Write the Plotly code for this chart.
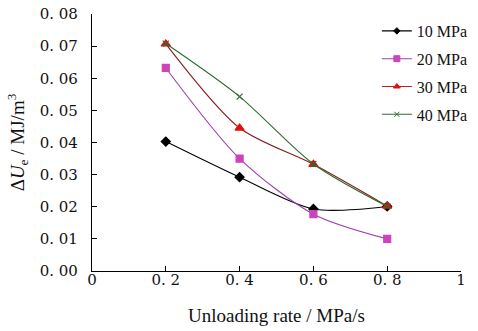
import plotly.graph_objects as go

rates = [0.2, 0.4, 0.6, 0.8]
u10 = [0.0403, 0.0292, 0.0193, 0.0201]
u20 = [0.0632, 0.0350, 0.0177, 0.0100]
u30 = [0.0707, 0.0445, 0.0332, 0.0202]
u40 = [0.0708, 0.0543, 0.0333, 0.0201]
names = ["10 MPa", "20 MPa", "30 MPa", "40 MPa"]

xtick_vals = [0, 0.2, 0.4, 0.6, 0.8, 1]
xtick_text = ["0", "0. 2", "0. 4", "0. 6", "0. 8", "1"]
ytick_vals = [0, 0.01, 0.02, 0.03, 0.04, 0.05, 0.06, 0.07, 0.08]
ytick_text = ["0. 00", "0. 01", "0. 02", "0. 03", "0. 04", "0. 05", "0. 06", "0. 07", "0. 08"]

FONT = "Liberation Serif"
TICKFONT = "DejaVu Serif"

series = [
    (u10, "#000000", "#000000", "diamond", 7, 5),
    (u20, "#A03CB4", "#CC44BB", "square", 7, 6),
    (u30, "#8B1A1A", "#E01010", "triangle-up", 8, 6),
    (u40, "#2E6B2E", "#2E6B2E", "x-thin", 6, 5),
]

fig = go.Figure()
for i, (vals, lc, mc, sym, sz, lsz) in enumerate(series):
    fig.add_trace(go.Scatter(
        x=rates, y=vals, name=names[i], mode="lines+markers",
        line=dict(color=lc, width=1.1, shape="spline", smoothing=0.8),
        marker=dict(symbol=sym, size=sz, color=mc, line=dict(color=mc, width=1.2)),
        showlegend=False,
    ))
for i, (vals, lc, mc, sym, sz, lsz) in enumerate(series):
    fig.add_trace(go.Scatter(
        x=[None], y=[None], name=names[i], mode="lines+markers",
        line=dict(color=lc if i != 2 else "#C02020", width=1.1),
        marker=dict(symbol=sym, size=lsz, color=mc, line=dict(color=mc, width=1)),
        legendgroup=f"g{i}", showlegend=True,
    ))

fig.update_layout(
    width=478, height=331,
    margin=dict(l=92, r=5, t=14, b=60),
    paper_bgcolor="white", plot_bgcolor="white",
    font=dict(family=FONT, size=15, color="#111"),
    showlegend=True,
    legend=dict(x=0.772, y=1.0, xanchor="left", yanchor="top",
                font=dict(family=FONT, size=16), tracegroupgap=4,
                bgcolor="rgba(0,0,0,0)"),
    xaxis=dict(range=[0, 1], tickvals=xtick_vals, ticktext=xtick_text,
               tickfont=dict(family=TICKFONT, size=15), automargin=False,
               ticklabelstandoff=-5,
               ticks="inside", ticklen=5, tickcolor="#000", showgrid=False,
               zeroline=False, showline=True, linecolor="#000", linewidth=1.2,
               title=dict(text="Unloading rate / MPa/s", font=dict(size=19), standoff=20)),
    yaxis=dict(range=[0, 0.08], tickvals=ytick_vals, ticktext=ytick_text,
               tickfont=dict(family=TICKFONT, size=15), automargin=False,
               ticklabelstandoff=10,
               ticks="inside", ticklen=5, tickcolor="#000", showgrid=False,
               zeroline=False, showline=True, linecolor="#000", linewidth=1.2,
               title=dict(text="Δ<i>U</i><sub>e</sub> / MJ/m<sup>3</sup>", font=dict(size=19), standoff=10)),
)

fig.write_html("out.html", config={"displayModeBar": False},
               post_script="document.body.style.margin='0';document.body.style.overflow='hidden';")
